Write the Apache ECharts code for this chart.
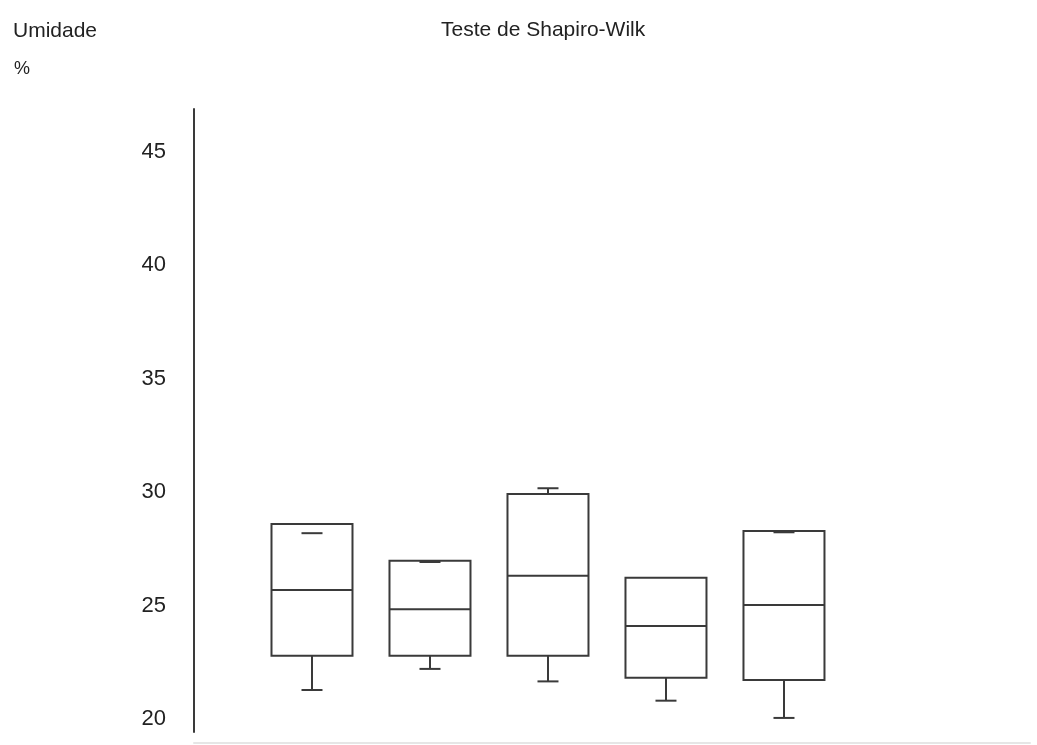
<!DOCTYPE html>
<html>
<head>
<meta charset="utf-8">
<script src="https://cdn.jsdelivr.net/npm/echarts@6/dist/echarts.min.js"></script>
<style>
  html, body { margin: 0; padding: 0; background: #fff; }
  #chart { width: 1037px; height: 745px; }
</style>
</head>
<body>
<div id="chart"></div>
<script>
// ---- data ----
const categories = ['Amostra 1', 'Amostra 2', 'Amostra 3', 'Amostra 4', 'Amostra 5'];
const whiskerMin = [21.29, 22.22, 21.67, 20.82, 20.06];
const quartile1 = [22.80, 22.80, 22.80, 21.83, 21.73];
const medians   = [25.70, 24.85, 26.33, 24.11, 25.04];
const quartile3 = [28.60, 26.99, 29.93, 26.24, 28.30];
const whiskerMax = [28.20, 26.93, 30.18, 26.24, 28.24];
const yTickValues = [20, 25, 30, 35, 40, 45];
const chartTitle = 'Teste de Shapiro-Wilk';
const yName = 'Umidade';
const yUnit = '%';

// ---- build ----
const seriesData = categories.map((c, i) => [i + 1, whiskerMin[i], quartile1[i], medians[i], quartile3[i], whiskerMax[i]]);

const LINE = '#3a3a3a';
const BOX_W = 81;
const CAP_W = 21;

function renderItem(params, api) {
  const x = api.value(0);
  const vMin = api.value(1), q1 = api.value(2), med = api.value(3), q3 = api.value(4), vMax = api.value(5);
  const pMin = api.coord([x, vMin]);
  const pQ1 = api.coord([x, q1]);
  const pMed = api.coord([x, med]);
  const pQ3 = api.coord([x, q3]);
  const pMax = api.coord([x, vMax]);
  const cx = pMed[0];
  const hw = BOX_W / 2, hc = CAP_W / 2;
  const style = { stroke: LINE, lineWidth: 2, fill: null };
  const children = [
    { type: 'rect', shape: { x: cx - hw, y: pQ3[1], width: BOX_W, height: pQ1[1] - pQ3[1] }, style: { stroke: LINE, lineWidth: 2, fill: '#fff' } },
    { type: 'line', shape: { x1: cx - hw, y1: pMed[1], x2: cx + hw, y2: pMed[1] }, style },
    { type: 'line', shape: { x1: cx, y1: pQ1[1], x2: cx, y2: pMin[1] }, style },
    { type: 'line', shape: { x1: cx - hc, y1: pMin[1], x2: cx + hc, y2: pMin[1] }, style }
  ];
  if (vMax > q3) {
    children.push({ type: 'line', shape: { x1: cx, y1: pQ3[1], x2: cx, y2: pMax[1] }, style });
  }
  if (vMax !== q3) {
    children.push({ type: 'line', shape: { x1: cx - hc, y1: pMax[1], x2: cx + hc, y2: pMax[1] }, style });
  }
  return { type: 'group', children };
}

const FONT = 'Liberation Sans, Arial, sans-serif';

const option = {
  backgroundColor: '#fff',
  animation: false,
  title: [
    { text: chartTitle, left: 436, top: 15, textStyle: { fontFamily: FONT, fontSize: 21, fontWeight: 'normal', color: '#222' } },
    { text: yName, left: 8, top: 16, textStyle: { fontFamily: FONT, fontSize: 21, fontWeight: 'normal', color: '#222' } },
    { text: yUnit, left: 9, top: 55, textStyle: { fontFamily: FONT, fontSize: 18, fontWeight: 'normal', color: '#222' } }
  ],
  grid: { left: 194, right: 7, top: 109, bottom: 13, containLabel: false },
  xAxis: {
    type: 'value', min: 0, max: 7.085,
    offset: 11,
    axisLine: { show: true, lineStyle: { color: '#e6e6e6', width: 2 } },
    axisTick: { show: false }, axisLabel: { show: false }, splitLine: { show: false }
  },
  yAxis: {
    type: 'value', min: 19.44, max: 46.89,
    axisLine: { show: true, lineStyle: { color: LINE, width: 2 } },
    axisTick: { show: false },
    splitLine: { show: false },
    axisLabel: {
      customValues: yTickValues,
      margin: 28,
      fontFamily: FONT, fontSize: 22, color: '#222'
    }
  },
  series: [{
    type: 'custom',
    renderItem: renderItem,
    encode: { x: 0, y: [1, 2, 3, 4, 5] },
    data: seriesData
  }]
};

const chart = echarts.init(document.getElementById('chart'), null, { renderer: 'canvas' });
chart.setOption(option);
</script>
</body>
</html>
